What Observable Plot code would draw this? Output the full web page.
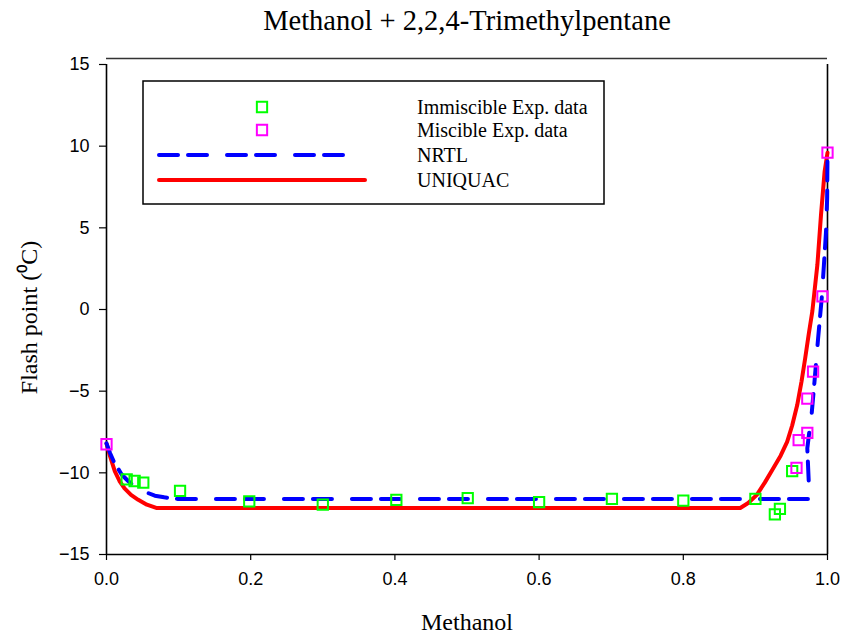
<!DOCTYPE html>
<html>
<head>
<meta charset="utf-8">
<script src="https://cdn.jsdelivr.net/npm/d3@7"></script>
<script src="https://cdn.jsdelivr.net/npm/@observablehq/plot@0.6"></script>
<style>
  html, body { margin: 0; padding: 0; background: #fff; }
  #chart { width: 842px; height: 637px; }
</style>
</head>
<body>
<div id="chart"></div>
<script>
// ---- Data ----
const titleText = "Methanol + 2,2,4-Trimethylpentane";
const xLabel = "Methanol";
const yLabel = "Flash point (\u2070C)";

const xTicks = [0, 0.2, 0.4, 0.6, 0.8, 1.0];
const yTicks = [-15, -10, -5, 0, 5, 10, 15];

// Immiscible experimental data
const immX = [0.028, 0.039, 0.051, 0.102, 0.198, 0.300, 0.402, 0.501, 0.600, 0.701, 0.800, 0.900, 0.934, 0.927, 0.951];
const immY = [-10.4, -10.5, -10.6, -11.1, -11.75, -11.95, -11.65, -11.55, -11.8, -11.6, -11.7, -11.6, -12.2, -12.55, -9.9];

// Miscible experimental data
const misX = [0.000, 0.957, 0.960, 0.972, 0.972, 0.980, 0.993, 1.000];
const misY = [-8.25, -9.7, -8.0, -7.55, -5.45, -3.8, 0.8, 9.6];

// NRTL model curve
const nrtlX = [0.000, 0.005, 0.010, 0.021, 0.030, 0.039, 0.050, 0.067, 0.080, 0.099, 0.975, 0.972, 0.975, 0.978, 0.982, 0.987, 0.992, 0.995, 0.998, 0.9995, 1.000];
const nrtlY = [-8.2, -8.8, -9.3, -10.1, -10.5, -10.85, -11.1, -11.4, -11.5, -11.6, -11.6, -8.5, -7.4, -6.4, -4.4, -1.75, 0.7, 2.7, 4.8, 6.8, 9.6];

// UNIQUAC model curve
const uniX = [0.000, 0.005, 0.0115, 0.018, 0.025, 0.034, 0.044, 0.056, 0.069, 0.879, 0.890, 0.902, 0.913, 0.925, 0.935, 0.944, 0.951, 0.958, 0.964, 0.969, 0.974, 0.979, 0.986, 0.991, 0.996, 1.000];
const uniY = [-8.2, -9.0, -9.9, -10.5, -10.95, -11.35, -11.65, -11.95, -12.15, -12.15, -11.85, -11.35, -10.6, -9.7, -8.95, -8.1, -7.1, -5.85, -4.4, -3.0, -1.5, -0.1, 2.75, 5.8, 8.45, 9.6];

const legendLabels = ["Immiscible Exp. data", "Miscible Exp. data", "NRTL", "UNIQUAC"];

// ---- Build tables ----
const imm = immX.map((x, i) => ({x, y: immY[i]}));
const mis = misX.map((x, i) => ({x, y: misY[i]}));
const nrtl = nrtlX.map((x, i) => ({x, y: nrtlY[i]}));
const uni = uniX.map((x, i) => ({x, y: uniY[i]}));

const GREEN = "#00ff00", MAGENTA = "#ff00ff", BLUE = "#0000ff", RED = "#ff0000";
const SERIF = "'Liberation Serif', 'Times New Roman', Times, serif";
const SANS = "'Liberation Sans', Arial, Helvetica, sans-serif";
const DASH = "19,10,19,20";
const R = 5.8;

const plot = Plot.plot({
  width: 842,
  height: 637,
  marginLeft: 106,
  marginRight: 15,
  marginTop: 64,
  marginBottom: 83,
  style: {fontFamily: SANS, fontSize: "18px", color: "#000", background: "#fff", overflow: "visible"},
  x: {domain: [0, 1], label: null},
  y: {domain: [-15, 15], label: null},
  marks: [
    // axes
    Plot.axisX({ticks: xTicks, tickFormat: d3.format(".1f"), tickSize: 6, tickPadding: 12, fontSize: 18, stroke: "#000", strokeWidth: 1.2}),
    Plot.axisY({ticks: yTicks, tickSize: 7, tickPadding: 10, fontSize: 18, stroke: "#000", strokeWidth: 1.2}),
    Plot.ruleX([0], {stroke: "#000", strokeWidth: 1.6}),
    Plot.ruleY([-15], {stroke: "#000", strokeWidth: 1.6}),
    Plot.ruleX([1], {stroke: "#000", strokeWidth: 1.6}),
    Plot.ruleY([15], {stroke: "#333", strokeWidth: 1.6, dy: -6}),
    // model curves
    Plot.line(uni, {x: "x", y: "y", stroke: RED, strokeWidth: 4, curve: "linear", strokeLinecap: "round", strokeLinejoin: "round"}),
    Plot.line(nrtl, {x: "x", y: "y", stroke: BLUE, strokeWidth: 4, curve: "linear", strokeDasharray: DASH, strokeLinecap: "round", strokeLinejoin: "round"}),
    // experimental points
    Plot.dot(imm, {x: "x", y: "y", symbol: "square", r: R, stroke: GREEN, strokeWidth: 2, fill: "none"}),
    Plot.dot(mis, {x: "x", y: "y", symbol: "square", r: R, stroke: MAGENTA, strokeWidth: 2, fill: "none"}),
    // title and axis labels
    Plot.text([titleText], {frameAnchor: "top", lineAnchor: "middle", textAnchor: "middle", dy: -44, fontFamily: SERIF, fontSize: 28.5, fill: "#000"}),
    Plot.text([xLabel], {frameAnchor: "bottom", lineAnchor: "middle", textAnchor: "middle", dy: 68, fontFamily: SERIF, fontSize: 24, fill: "#000"}),
    Plot.text([yLabel], {frameAnchor: "left", lineAnchor: "middle", textAnchor: "middle", dx: -77, dy: 8, rotate: -90, fontFamily: SERIF, fontSize: 24, fill: "#000"})
  ]
});

document.getElementById("chart").appendChild(plot);

// ---- Legend (boxed, inside plot area) ----
const svg = d3.select(plot);
const lg = svg.append("g").attr("class", "legend");
lg.append("rect").attr("x", 143).attr("y", 81).attr("width", 461).attr("height", 123)
  .attr("fill", "#fff").attr("stroke", "#000").attr("stroke-width", 1.5);
const rowsY = [107, 130, 155, 180];
const sym = d3.symbol(d3.symbolSquare, R * R * Math.PI);
lg.append("path").attr("d", sym()).attr("transform", `translate(262,${rowsY[0]})`)
  .attr("fill", "none").attr("stroke", GREEN).attr("stroke-width", 2);
lg.append("path").attr("d", sym()).attr("transform", `translate(262,${rowsY[1]})`)
  .attr("fill", "none").attr("stroke", MAGENTA).attr("stroke-width", 2);
lg.append("line").attr("x1", 159).attr("x2", 346).attr("y1", rowsY[2]).attr("y2", rowsY[2])
  .attr("stroke", BLUE).attr("stroke-width", 4).attr("stroke-linecap", "round").attr("stroke-dasharray", DASH);
lg.append("line").attr("x1", 159).attr("x2", 365).attr("y1", rowsY[3]).attr("y2", rowsY[3])
  .attr("stroke", RED).attr("stroke-width", 4).attr("stroke-linecap", "round");
legendLabels.forEach((t, i) => {
  lg.append("text").attr("x", 417).attr("y", rowsY[i]).attr("dy", "0.35em")
    .attr("text-anchor", "start")
    .attr("font-family", SERIF).attr("font-size", 20).attr("fill", "#000").text(t);
});
</script>
</body>
</html>
